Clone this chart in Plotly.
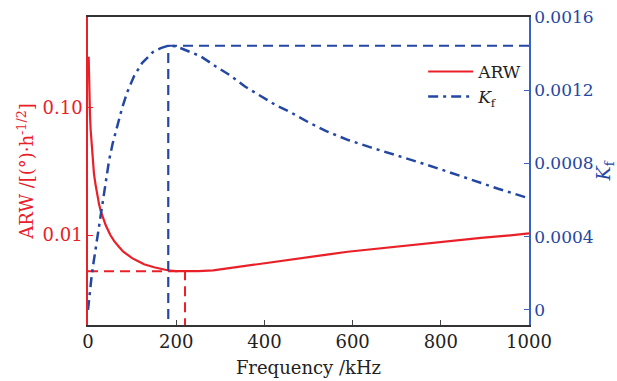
import plotly.graph_objects as go

# ---- data ----
freq_arw = [1.5, 2, 3, 4.5, 6, 8, 10, 13.6, 17, 20, 25, 29, 35, 40, 50, 59, 70, 80,
            90, 100, 115, 127, 150, 180, 200, 220, 250, 284, 320, 350, 400, 436, 500,
            550, 589, 650, 700, 739, 800, 850, 891, 950, 1000]
arw = [0.25, 0.19, 0.13, 0.088, 0.067, 0.052, 0.042, 0.030, 0.025, 0.0215, 0.0175,
       0.0154, 0.0133, 0.0120, 0.0101, 0.0090, 0.0081, 0.0074, 0.0070, 0.0066, 0.0062,
       0.0059, 0.0056, 0.0053, 0.00522, 0.0052, 0.00522, 0.00528, 0.0055, 0.0057,
       0.0060, 0.0063, 0.0068, 0.0071, 0.0074, 0.0078, 0.0081, 0.0084, 0.0088, 0.0092,
       0.0095, 0.0099, 0.0103]
freq_kf = [0, 2, 5, 8, 12, 17, 24, 32, 40, 48, 56, 66, 77, 89, 105, 123, 135, 148, 165,
           182, 200, 220, 255, 290, 323, 356, 391, 425, 459, 500, 539, 590, 641, 700,
           755, 810, 868, 930, 1000]
kf = [0, 0.000055, 0.00012, 0.00018, 0.00025, 0.00033, 0.00045, 0.00058, 0.00070,
      0.00082, 0.00091, 0.00100, 0.00110, 0.00119, 0.00128, 0.00135, 0.00138, 0.00141,
      0.00143, 0.001443, 0.00144, 0.00142, 0.001386, 0.00133, 0.00128, 0.00122,
      0.00117, 0.00112, 0.00108, 0.001025, 0.000978, 0.000928, 0.000888, 0.000845,
      0.000803, 0.00076, 0.000712, 0.000662, 0.00061]
x_ticks = [0, 200, 400, 600, 800, 1000]
left_ticks = [0.01, 0.1]
left_labels = ["0.01", "0.10"]
right_ticks = [0, 0.0004, 0.0008, 0.0012, 0.0016]
right_labels = ["0", "0.0004", "0.0008", "0.0012", "0.0016"]

RED = "#ea2028"
BLUE = "#2447a3"
FONT = "DejaVu Serif"

# optimum points
i_min = arw.index(min(arw))
f_min, a_min = freq_arw[i_min], arw[i_min]
i_max = kf.index(max(kf))
f_max, k_max = freq_kf[i_max], kf[i_max]

fig = go.Figure()
# reference dashed lines
fig.add_trace(go.Scatter(x=[0, f_min, f_min], y=[a_min, a_min, 0.0005], mode="lines",
                         line=dict(color=RED, width=2, dash="10px,6px"),
                         showlegend=False, hoverinfo="skip"))
fig.add_trace(go.Scatter(x=[1000, f_max, f_max], y=[k_max, k_max, -0.0005], mode="lines",
                         line=dict(color=BLUE, width=2.2, dash="10px,6px"),
                         showlegend=False, hoverinfo="skip", yaxis="y2"))
fig.add_trace(go.Scatter(x=freq_arw, y=arw, mode="lines", name="ARW",
                         line=dict(color=RED, width=2.2)))
fig.add_trace(go.Scatter(x=freq_kf, y=kf, mode="lines", name="<i>K</i><sub>f</sub>",
                         line=dict(color=BLUE, width=2.5, dash="10px,5px,3px,5px"),
                         yaxis="y2"))

fig.update_layout(
    width=617, height=381,
    margin=dict(l=88, r=88, t=17, b=56),
    paper_bgcolor="white", plot_bgcolor="white",
    font=dict(family=FONT, size=17, color="#222"),
    showlegend=True,
    legend=dict(x=0.76, y=0.88, xanchor="left", yanchor="top",
                bgcolor="rgba(0,0,0,0)", font=dict(size=17, color="#222"),
                tracegroupgap=0, itemwidth=45),
    xaxis=dict(range=[0, 1000], tickvals=x_ticks, ticks="inside", ticklen=5,
               showline=True, linecolor="#333", linewidth=1.5, mirror=True,
               showgrid=False, zeroline=False, automargin=False,
               title=dict(text="Frequency /kHz", standoff=10, font=dict(size=18)),
               tickfont=dict(size=18)),
    yaxis=dict(type="log", range=[-2.705, -0.29], tickvals=left_ticks,
               ticktext=left_labels, ticks="inside", ticklen=5, automargin=False,
               showline=True, linecolor=RED, linewidth=1.5, tickcolor=RED,
               showgrid=False, zeroline=False, tickfont=dict(size=18, color=RED),
               title=dict(text="ARW /[(°)·h<sup>-1/2</sup>]", font=dict(size=18, color=RED),
                          standoff=4)),
    yaxis2=dict(overlaying="y", side="right", range=[-0.000082, 0.0016],
                tickvals=right_ticks, ticktext=right_labels, ticks="inside", ticklen=5,
                automargin=False,
                showline=True, linecolor="#3a62c0", linewidth=1.5, tickcolor="#3a62c0",
                showgrid=False, zeroline=False, tickfont=dict(size=17, color=BLUE),
                title=dict(text="<i>K</i><sub>f</sub>", font=dict(size=19, color=BLUE),
                           standoff=2)),
)

fig.write_html("out.html")
